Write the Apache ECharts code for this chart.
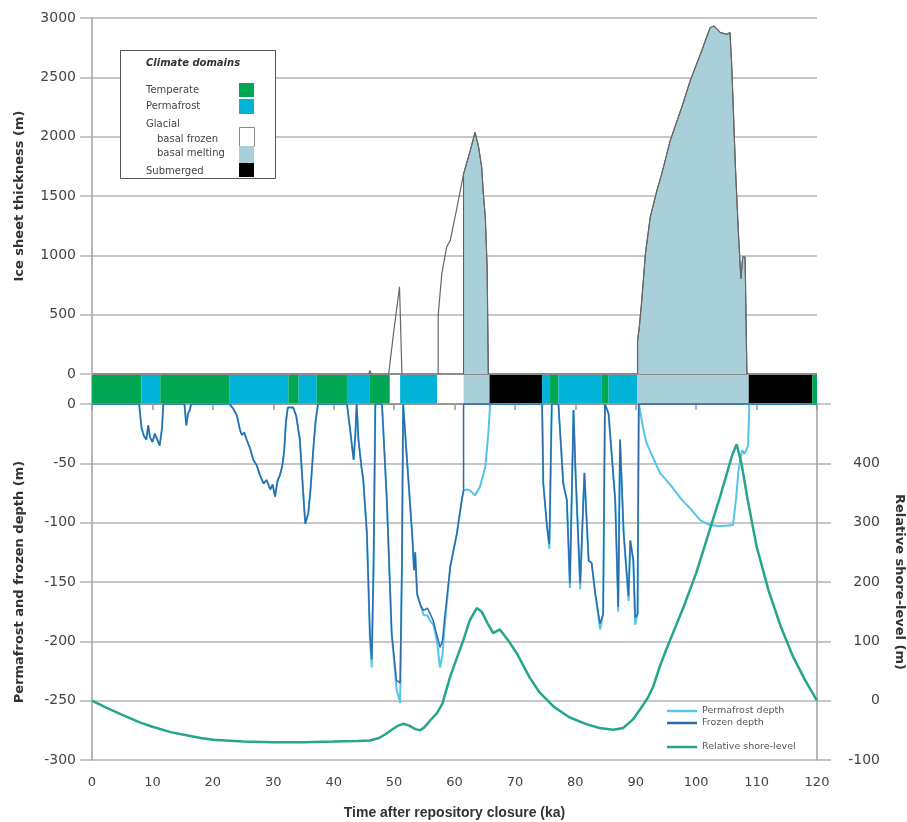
<!DOCTYPE html>
<html>
<head>
<meta charset="utf-8">
<script src="https://cdn.jsdelivr.net/npm/echarts@6/dist/echarts.min.js"></script>
<style>
  html, body { margin: 0; padding: 0; background: #fff; }
  #main { width: 907px; height: 822px; }
</style>
</head>
<body>
<div id="main"></div>
<script>
// ice sheet thickness (m), null = break in line
const iceT = [45.8, 46.0, 46.2, 46.2,
  49.1, 50.0, 50.9, 51.3, 51.3,
  57.3, 57.3, 57.9, 58.7, 59.3, 60.4, 61.5, 62.6, 63.4, 64.0, 64.5, 64.8, 65.1, 65.4, 65.6, 65.6,
  90.3, 90.3, 90.6, 91.0, 91.6, 92.4, 93.5, 94.3, 95.7, 97.6, 99.0, 100.7, 102.3, 102.9, 103.5,
  104.0, 105.1, 105.6, 105.9, 106.5, 107.0, 107.4, 107.7, 108.1, 108.4];
const iceH = [0, 30, 0, null,
  0, 380, 735, 0, null,
  0, 496, 846, 1070, 1126, 1400, 1686, 1882, 2036, 1910, 1742, 1500, 1322, 900, 0, null,
  0, 280, 400, 622, 1014, 1322, 1546, 1686, 1966, 2246, 2470, 2695, 2918, 2933, 2905,
  2877, 2863, 2877, 2582, 1742, 1182, 804, 986, 986, 0];

// basal melting parts (filled)
const melt1T = [61.5, 61.5, 62.6, 63.4, 64.0, 64.5, 64.8, 65.1, 65.4, 65.6];
const melt1H = [0, 1686, 1882, 2036, 1910, 1742, 1500, 1322, 900, 0];
const melt2T = [90.3, 90.3, 90.6, 91.0, 91.6, 92.4, 93.5, 94.3, 95.7, 97.6, 99.0, 100.7, 102.3, 102.9, 103.5,
  104.0, 105.1, 105.6, 105.9, 106.5, 107.0, 107.4, 107.7, 108.1, 108.4];
const melt2H = [0, 280, 400, 622, 1014, 1322, 1546, 1686, 1966, 2246, 2470, 2695, 2918, 2933, 2905,
  2877, 2863, 2877, 2582, 1742, 1182, 804, 986, 986, 0];

// climate domains: 0 temperate, 1 permafrost, 2 basal frozen, 3 basal melting, 4 submerged
const climateStart = [0, 8.2, 11.3, 22.8, 32.5, 34.2, 37.2, 42.2, 46.0, 49.3, 51.0, 57.1, 61.5, 65.8, 74.5, 75.8, 77.2, 84.4, 85.5, 90.3, 108.7, 119.2];
const climateEnd   = [8.2, 11.3, 22.8, 32.5, 34.2, 37.2, 42.2, 46.0, 49.3, 51.0, 57.1, 61.5, 65.8, 74.5, 75.8, 77.2, 84.4, 85.5, 90.3, 108.7, 119.2, 120];
const climateKind  = [0, 1, 0, 1, 0, 1, 0, 1, 0, 2, 1, 2, 3, 4, 1, 0, 1, 0, 1, 3, 4, 0];
const climateColors = ['#00a651', '#00b3d7', '#ffffff', '#a9d0d9', '#000000'];

// permafrost / frozen depth (m)
const depthT = [0, 7.8, 8.2, 8.6, 9.0, 9.3, 9.6, 10.0, 10.4, 10.8, 11.2, 11.6, 11.8,
  15.3, 15.6, 15.9, 16.2, 16.4,
  22.8, 23.5, 24.0, 24.5, 24.8, 25.2, 25.6, 26.2, 26.7, 27.3, 27.8, 28.4, 28.9, 29.5, 29.9, 30.3, 30.7, 31.1, 31.5, 31.8, 32.1, 32.4,
  33.3, 33.8, 34.4, 34.9, 35.3, 35.8, 36.2, 36.6, 37.0, 37.4,
  42.2, 42.8, 43.3, 43.6, 43.8, 44.1, 44.6, 44.9, 45.5, 46.0, 46.3, 46.6, 46.9,
  48.0, 48.8, 49.6, 50.4, 51.0, 51.3, 51.5,
  51.8, 52.6, 53.0, 53.3, 53.5, 53.8, 54.4, 54.9, 55.5, 56.0, 56.5, 57.1, 57.6, 58.0, 58.4, 59.3, 60.4, 61.2, 61.5,
  61.5, 62.0, 62.6, 63.4, 64.2, 65.1, 65.6, 65.9,
  74.5, 74.7, 75.3, 75.7, 76.1,
  77.2, 78.0, 78.6, 79.1, 79.7, 80.0, 80.8, 81.5, 82.2, 82.7, 83.3, 84.1, 84.6, 84.9,
  85.5, 86.6, 87.1, 87.4, 88.0, 88.8, 89.1, 89.6, 89.9, 90.3, 90.5,
  90.7, 91.2, 91.8, 92.4, 94.0, 95.7, 97.5, 99.0, 100.7, 102.3, 104.0, 106.1, 106.6, 107.0, 107.6, 108.0, 108.6, 108.8, 120];
const frozenD = [0, 0, -20, -27, -30, -18, -28, -32, -25, -30, -35, -20, 0,
  0, -18, -8, -5, 0,
  0, -5, -10, -22, -26, -24, -30, -38, -47, -52, -60, -67, -64, -72, -68, -78, -65, -60, -52, -40, -15, -3,
  -3, -10, -30, -70, -101, -92, -70, -40, -15, 0,
  0, -25, -47, -25, 0, -30, -53, -64, -109, -193, -215, -137, 0,
  0, -81, -193, -233, -235, -137, 0,
  0, -81, -110, -140, -125, -160, -170, -174, -172, -177, -183, -195, -205, -200, -179, -137, -109, -81, -73,
  0, 0, 0, 0, 0, 0, 0, 0,
  0, -67, -103, -118, 0,
  0, -67, -81, -151, -5, -53, -151, -58, -132, -134, -160, -185, -177, 0,
  -8, -81, -171, -30, -109, -162, -115, -132, -180, -177, 0,
  0, 0, 0, 0, 0, 0, 0, 0, 0, 0, 0, 0, 0, 0, 0, 0, 0, 0, 0];
const permD = [0, 0, -20, -27, -30, -18, -28, -32, -25, -30, -35, -20, 0,
  0, -18, -8, -5, 0,
  0, -5, -10, -22, -26, -24, -30, -38, -47, -52, -60, -67, -64, -72, -68, -78, -65, -60, -52, -40, -15, -3,
  -3, -10, -30, -70, -101, -92, -70, -40, -15, 0,
  0, -25, -47, -25, 0, -30, -53, -64, -109, -198, -222, -137, 0,
  0, -81, -193, -240, -252, -137, 0,
  0, -81, -110, -140, -125, -160, -170, -178, -178, -183, -186, -200, -222, -212, -185, -137, -109, -81, -73,
  -73, -72, -73, -77, -70, -53, -25, 0,
  0, -67, -103, -122, 0,
  0, -67, -81, -155, -5, -53, -156, -58, -132, -134, -160, -190, -177, 0,
  -8, -81, -175, -30, -109, -166, -115, -132, -186, -177, 0,
  -5, -20, -33, -40, -58, -68, -80, -88, -98, -102, -103, -102, -80, -56, -39, -42, -35, 0, 0];

// relative shore-level (m)
const shoreT = [0, 2, 5, 8, 10, 13, 15, 18, 20, 25, 30, 35, 40, 44, 46, 47.5, 48.5, 49.5, 50.5, 51.5, 52.5, 53.5, 54.3, 55, 56, 57.1, 58,
  59.3, 60.5, 61.5, 62.5, 63.7, 64.5, 65.5, 66.4, 67.5, 69, 70.3, 71.5, 72.5, 74, 76.4, 79, 81.9, 84, 86.3, 87.9, 89.5, 90.7,
  92, 92.9, 94, 95, 96, 98, 100, 102, 104, 105, 106, 106.7, 107.5, 108.5, 110, 112, 114, 116, 118, 120];
const shoreV = [0, -10, -24, -37, -44, -53, -57, -63, -66, -69, -70, -70, -69, -68, -67, -63, -57, -50, -43, -39, -42, -48, -50, -45, -33, -21, -5,
  41, 75, 103, 135, 156, 150, 130, 114, 120, 100, 80, 57, 38, 15, -10, -28, -40, -46, -49, -46, -32, -15,
  5, 24, 58, 85, 110, 160, 215, 280, 345, 380, 415, 432, 400, 340, 260, 185, 125, 75, 35, 0];

const pairs = (ts, vs) => ts.map((t, i) => [t, vs[i]]);
const font = 'DejaVu Sans';
const gridCol = '#b4b4b4';
const plain = v => String(v);

const chart = echarts.init(document.getElementById('main'));

const xBase = { type: 'value', min: 0, max: 120, interval: 10 };

// legend box text helper
const boxText = (x, y, text, bold) => ({
  type: 'text', x: x, y: y, z: 101,
  style: {
    text: text, fill: bold ? '#333' : '#444', verticalAlign: 'middle',
    font: (bold ? 'italic bold ' : '') + '10px DejaVu Sans'
  }
});

chart.setOption({
  animation: false,
  backgroundColor: '#fff',
  grid: [
    { left: 92, width: 725, top: 18, height: 356, outerBoundsMode: 'none', containLabel: false },
    { left: 92, width: 725, top: 375, height: 28, outerBoundsMode: 'none', containLabel: false },
    { left: 92, width: 725, top: 404, height: 356, outerBoundsMode: 'none', containLabel: false }
  ],
  xAxis: [
    Object.assign({ gridIndex: 0, show: false }, xBase),
    Object.assign({ gridIndex: 1, show: false }, xBase),
    Object.assign({
      gridIndex: 2,
      name: 'Time after repository closure (ka)',
      nameLocation: 'middle',
      nameGap: 46,
      nameTextStyle: { fontFamily: 'Liberation Sans', fontWeight: 'bold', fontSize: 14, color: '#333' },
      axisLine: { lineStyle: { color: '#999', width: 1.5 } },
      axisTick: { length: 6, lineStyle: { color: '#999', width: 1.5 } },
      axisLabel: { margin: 16, fontFamily: font, fontSize: 13, color: '#444', formatter: plain },
      splitLine: { show: false }
    }, xBase)
  ],
  yAxis: [
    {
      gridIndex: 0, type: 'value', min: 0, max: 3000, interval: 500,
      name: 'Ice sheet thickness (m)',
      nameLocation: 'middle', nameGap: 66,
      nameTextStyle: { fontFamily: font, fontWeight: 'bold', fontSize: 13, color: '#333' },
      axisLine: { show: true, lineStyle: { color: '#a0a0a0', width: 1.5 } },
      axisTick: { show: true, length: 12, lineStyle: { color: gridCol, width: 1.5 } },
      axisLabel: { margin: 16, fontFamily: font, fontSize: 14, color: '#444', formatter: plain },
      splitLine: { lineStyle: { color: ['#666', gridCol, gridCol, gridCol, gridCol, gridCol, gridCol], width: 1.5 } }
    },
    {
      gridIndex: 1, type: 'value', min: 0, max: 1, show: true,
      axisLine: { show: true, lineStyle: { color: '#a0a0a0', width: 1.5 } },
      axisTick: { show: false }, axisLabel: { show: false }, splitLine: { show: false }
    },
    {
      gridIndex: 2, type: 'value', min: -300, max: 0, interval: 50,
      name: 'Permafrost and frozen depth (m)',
      nameLocation: 'middle', nameGap: 66,
      nameTextStyle: { fontFamily: font, fontWeight: 'bold', fontSize: 13, color: '#333' },
      axisLine: { show: true, lineStyle: { color: '#a0a0a0', width: 1.5 } },
      axisTick: { show: true, length: 12, lineStyle: { color: gridCol, width: 1.5 } },
      axisLabel: { margin: 16, fontFamily: font, fontSize: 14, color: '#444', formatter: plain },
      splitLine: { lineStyle: { color: [gridCol, gridCol, gridCol, gridCol, gridCol, gridCol, '#666'], width: 1.5 } }
    },
    {
      gridIndex: 2, type: 'value', min: -100, max: 500, interval: 100, position: 'right',
      name: 'Relative shore-level (m)',
      nameLocation: 'middle', nameGap: 76, nameRotate: -90,
      nameTextStyle: { fontFamily: font, fontWeight: 'bold', fontSize: 13, color: '#333' },
      axisLine: { show: true, lineStyle: { color: '#a0a0a0', width: 1.5 } },
      axisTick: { show: true, length: 14, lineStyle: { color: gridCol, width: 1.5 } },
      axisLabel: { margin: 63, align: 'right', fontFamily: font, fontSize: 14, color: '#444',
        formatter: v => v === 500 ? '' : String(v) },
      splitLine: { show: false }
    }
  ],
  legend: [
    {
      data: ['Permafrost depth', 'Frozen depth'],
      orient: 'vertical', left: 667, top: 706, padding: 0, itemGap: 2,
      icon: 'rect', itemWidth: 30, itemHeight: 2.5,
      textStyle: { fontFamily: font, fontSize: 9.5, color: '#555' }
    },
    {
      data: ['Relative shore-level'],
      orient: 'vertical', left: 667, top: 742, padding: 0,
      icon: 'rect', itemWidth: 30, itemHeight: 2.5,
      textStyle: { fontFamily: font, fontSize: 9.5, color: '#555' }
    }
  ],
  graphic: [
    { type: 'rect', left: 120, top: 50, z: 100,
      shape: { width: 155, height: 128 }, style: { fill: '#fff', stroke: '#555', lineWidth: 1 } },
    boxText(146, 63, 'Climate domains', true),
    boxText(146, 90, 'Temperate'),
    boxText(146, 106, 'Permafrost'),
    boxText(146, 124, 'Glacial'),
    boxText(157, 139, 'basal frozen'),
    boxText(157, 153, 'basal melting'),
    boxText(146, 171, 'Submerged'),
    { type: 'rect', left: 239, top: 83, z: 101, shape: { width: 15, height: 14 }, style: { fill: climateColors[0] } },
    { type: 'rect', left: 239, top: 99, z: 101, shape: { width: 15, height: 15 }, style: { fill: climateColors[1] } },
    { type: 'rect', left: 239, top: 127, z: 101, shape: { width: 15, height: 19 }, style: { fill: '#fff', stroke: '#888', lineWidth: 1 } },
    { type: 'rect', left: 239, top: 146, z: 101, shape: { width: 15, height: 17 }, style: { fill: climateColors[3] } },
    { type: 'rect', left: 239, top: 163, z: 101, shape: { width: 15, height: 14 }, style: { fill: climateColors[4] } }
  ],
  series: [
    {
      type: 'line', xAxisIndex: 0, yAxisIndex: 0, symbol: 'none', z: 3,
      data: pairs(melt1T, melt1H),
      lineStyle: { color: '#4a5a60', width: 1 },
      areaStyle: { color: '#a9d0d9', opacity: 1 }
    },
    {
      type: 'line', xAxisIndex: 0, yAxisIndex: 0, symbol: 'none', z: 3,
      data: pairs(melt2T, melt2H),
      lineStyle: { color: '#4a5a60', width: 1 },
      areaStyle: { color: '#a9d0d9', opacity: 1 }
    },
    {
      type: 'line', xAxisIndex: 0, yAxisIndex: 0, symbol: 'none', z: 4,
      data: pairs(iceT, iceH), connectNulls: false,
      lineStyle: { color: '#666', width: 1.2 }
    },
    {
      type: 'custom', xAxisIndex: 1, yAxisIndex: 1,
      data: climateStart.map((s, i) => [s, climateEnd[i], climateKind[i]]),
      renderItem: function (params, api) {
        const a = api.coord([api.value(0), 1]);
        const b = api.coord([api.value(1), 0]);
        return {
          type: 'rect',
          shape: { x: a[0], y: a[1], width: b[0] - a[0], height: b[1] - a[1] },
          style: { fill: climateColors[api.value(2)] }
        };
      }
    },
    {
      name: 'Permafrost depth', type: 'line', xAxisIndex: 2, yAxisIndex: 2, symbol: 'none', z: 3,
      data: pairs(depthT, permD),
      itemStyle: { color: '#55c3ea' },
      lineStyle: { color: '#55c3ea', width: 2 }
    },
    {
      name: 'Frozen depth', type: 'line', xAxisIndex: 2, yAxisIndex: 2, symbol: 'none', z: 4,
      data: pairs(depthT, frozenD),
      itemStyle: { color: '#2f6aaa' },
      lineStyle: { color: '#2f6aaa', width: 1.5 }
    },
    {
      name: 'Relative shore-level', type: 'line', xAxisIndex: 2, yAxisIndex: 3, symbol: 'none', z: 5,
      data: pairs(shoreT, shoreV),
      itemStyle: { color: '#25a58b' },
      lineStyle: { color: '#25a58b', width: 2.5 }
    }
  ]
});
</script>
</body>
</html>
